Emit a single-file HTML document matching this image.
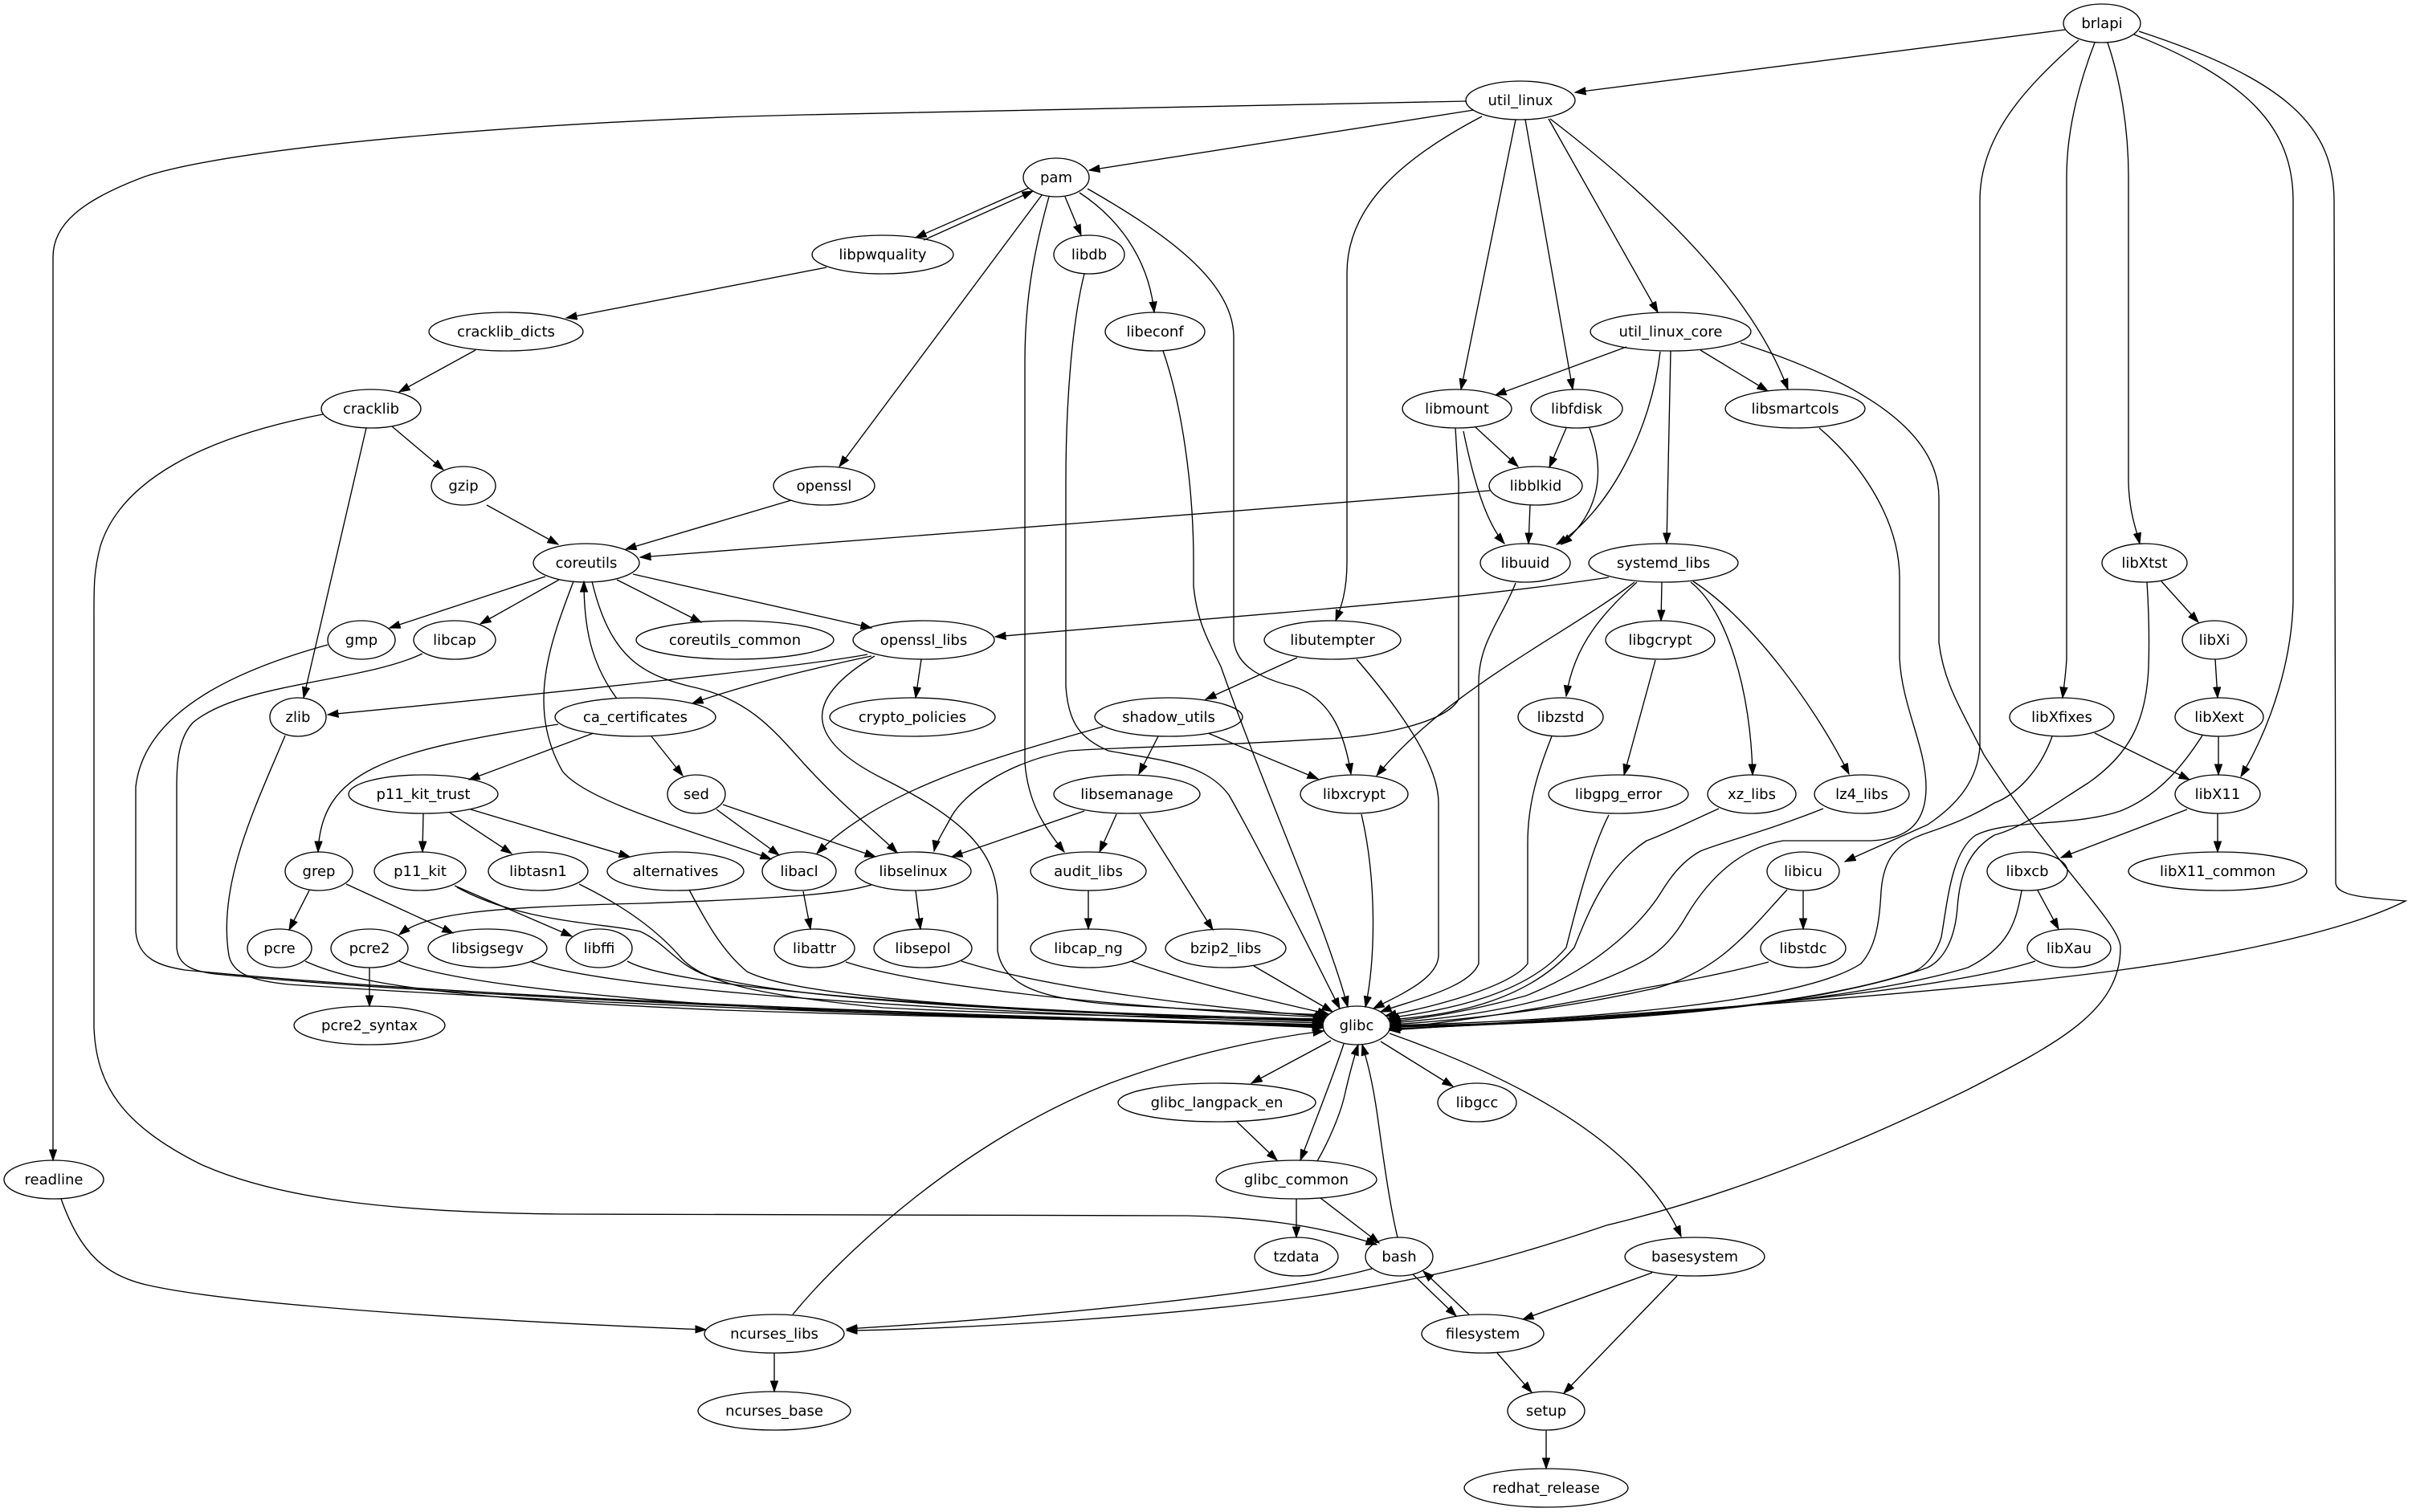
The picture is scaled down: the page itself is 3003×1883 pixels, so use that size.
<!DOCTYPE html>
<html><head><meta charset="utf-8"><style>
html,body{margin:0;padding:0;background:#fff;}
svg{display:block;}
text{font-family:"DejaVu Sans","Liberation Sans",sans-serif;font-size:18px;text-anchor:middle;fill:#000;}
.e{fill:none;stroke:#000;stroke-width:1.35;marker-end:url(#a);}
.n{fill:none;stroke:#000;stroke-width:1.35;}
</style></head><body>
<svg width="3003" height="1883" viewBox="0 0 3003 1883" xmlns="http://www.w3.org/2000/svg">
<defs><marker id="a" markerUnits="userSpaceOnUse" markerWidth="16" markerHeight="12" refX="13.5" refY="5" orient="auto"><path d="M0,0.3 L13.5,5 L0,9.7 z" fill="#000" stroke="#000" stroke-width="1"/></marker></defs>
<rect width="3003" height="1883" fill="#fff"/>
<g>
<path class="e" d="M2571,37 L1961,115"/>
<path class="e" d="M1835,137 L1356,212"/>
<path class="e" d="M1826,126 L1000,143 C700,150 300,180 180,220 C100,250 66,280 66,320 L66,1445"/>
<path class="e" d="M1845,145 C1740,200 1677,260 1677,340 L1677,700 C1677,740 1668,760 1663,773"/>
<path class="e" d="M1887,149 L1819,485"/>
<path class="e" d="M1899,149 L1958,485"/>
<path class="e" d="M1928,148 L2064,389"/>
<path class="e" d="M1930,148 C2050,240 2180,360 2226,485"/>
<path class="e" d="M1281,234 L1140,296"/>
<path class="e" d="M1150,299 L1286,238"/>
<path class="e" d="M1029,333 L705,396"/>
<path class="e" d="M592,436 L497,488"/>
<path class="e" d="M488,531 L552,585"/>
<path class="e" d="M456,533 L378,869"/>
<path class="e" d="M402,516 C250,545 150,600 125,680 C117,710 117,730 117,760 L117,1280 C120,1350 150,1400 250,1450 C350,1495 500,1510 700,1512 L1478,1514 C1560,1516 1640,1525 1714,1550"/>
<path class="e" d="M1297,243 L1045,581"/>
<path class="e" d="M1306,245 C1285,320 1276,380 1276,450 L1276,950 C1280,1000 1300,1030 1325,1061"/>
<path class="e" d="M1326,245 L1346,293"/>
<path class="e" d="M1344,240 C1390,270 1430,320 1437,389"/>
<path class="e" d="M1354,235 C1450,290 1536,350 1536,420 L1536,798 C1540,830 1570,845 1610,855 C1660,870 1675,920 1682,964"/>
<path class="e" d="M1350,341 C1335,400 1327,500 1327,600 L1327,855 C1330,900 1345,920 1380,935 C1450,948 1500,950 1530,990 C1570,1060 1640,1200 1668,1256"/>
<path class="e" d="M1448,437 C1470,500 1486,600 1486,700 L1486,730 C1490,770 1500,790 1520,830 C1580,1000 1650,1150 1678,1254"/>
<path class="e" d="M2025,432 L1862,492"/>
<path class="e" d="M2117,436 L2201,487"/>
<path class="e" d="M2080,437 L2075,677"/>
<path class="e" d="M2067,438 C2055,540 2000,640 1938,678"/>
<path class="e" d="M2167,427 C2300,470 2414,530 2414,620 L2414,800 C2420,850 2440,880 2470,940 C2560,1080 2640,1150 2640,1180 C2640,1260 2560,1300 2450,1357 C2300,1430 2150,1490 2000,1526 C1900,1560 1800,1590 1638,1614 C1450,1640 1200,1655 1054,1657"/>
<path class="e" d="M1837,532 L1890,581"/>
<path class="e" d="M1950,533 L1929,582"/>
<path class="e" d="M1822,537 C1835,600 1850,650 1873,677"/>
<path class="e" d="M1905,629 L1903,677"/>
<path class="e" d="M1979,533 C2000,590 1990,640 1944,678"/>
<path class="e" d="M1812,533 L1816,600 L1816,871 C1800,900 1720,915 1669,919 C1500,930 1400,930 1331,935 C1250,950 1200,990 1185,1016 C1175,1035 1165,1050 1163,1060"/>
<path class="e" d="M1855,611 C1500,640 1100,670 797,694"/>
<path class="e" d="M606,629 L695,678"/>
<path class="e" d="M985,623 L779,684"/>
<path class="e" d="M679,718 L485,782"/>
<path class="e" d="M696,722 L598,777"/>
<path class="e" d="M768,722 L873,775"/>
<path class="e" d="M788,715 L1085,782"/>
<path class="e" d="M714,724 C685,800 655,880 700,960 C730,1000 880,1040 960,1070"/>
<path class="e" d="M737,724 C760,820 800,840 860,855 C930,870 960,905 1000,950 C1050,1005 1090,1035 1117,1062"/>
<path class="e" d="M768,870 C735,825 727,780 727,724"/>
<path class="e" d="M1080,815 C1000,830 700,862 408,890"/>
<path class="e" d="M1085,817 C1000,835 920,855 862,876"/>
<path class="e" d="M1147,821 L1140,869"/>
<path class="e" d="M1089,817 C1000,870 1000,920 1100,970 C1200,1020 1240,1060 1242,1120 L1242,1184 C1250,1230 1300,1245 1400,1252 C1500,1258 1600,1262 1652,1264"/>
<path class="e" d="M695,902 C480,935 400,960 396,1061"/>
<path class="e" d="M739,913 L584,971"/>
<path class="e" d="M811,917 L850,966"/>
<path class="e" d="M527,1013 L526,1061"/>
<path class="e" d="M560,1012 L637,1063"/>
<path class="e" d="M586,1008 L784,1067"/>
<path class="e" d="M892,1008 L970,1065"/>
<path class="e" d="M900,1002 L1090,1067"/>
<path class="e" d="M385,1109 L360,1158"/>
<path class="e" d="M431,1101 L564,1162"/>
<path class="e" d="M566,1103 L712,1166"/>
<path class="e" d="M1085,1102 C1050,1112 1000,1118 800,1125 C600,1130 530,1138 497,1164"/>
<path class="e" d="M460,1205 L460,1253"/>
<path class="e" d="M1000,1110 L1009,1157"/>
<path class="e" d="M1140,1109 L1146,1157"/>
<path class="e" d="M1615,819 L1501,871"/>
<path class="e" d="M1373,905 C1250,940 1100,980 1017,1063"/>
<path class="e" d="M1442,917 L1418,964"/>
<path class="e" d="M1504,913 L1641,970"/>
<path class="e" d="M1350,1010 L1185,1067"/>
<path class="e" d="M1390,1014 L1369,1061"/>
<path class="e" d="M1419,1014 L1510,1158"/>
<path class="e" d="M1355,1109 L1355,1157"/>
<path class="e" d="M2003,719 C1800,750 1500,770 1239,793"/>
<path class="e" d="M2035,725 C1950,790 1800,860 1714,966"/>
<path class="e" d="M2038,725 C2000,760 1960,800 1950,867"/>
<path class="e" d="M2069,725 L2068,773"/>
<path class="e" d="M2105,725 C2150,760 2180,860 2182,965"/>
<path class="e" d="M2108,724 C2180,770 2260,880 2302,964"/>
<path class="e" d="M2061,822 L2022,965"/>
<path class="e" d="M2691,724 L2737,775"/>
<path class="e" d="M2758,821 L2761,869"/>
<path class="e" d="M2762,917 L2762,965"/>
<path class="e" d="M2608,913 L2726,971"/>
<path class="e" d="M2723,1008 L2566,1068"/>
<path class="e" d="M2761,1013 L2761,1061"/>
<path class="e" d="M2537,1109 L2563,1157"/>
<path class="e" d="M2245,1109 L2245,1157"/>
<path class="e" d="M2588,50 C2520,110 2465,170 2465,250 L2465,930 C2462,970 2440,1000 2400,1027 C2360,1045 2320,1062 2297,1073"/>
<path class="e" d="M2608,53 C2590,100 2573,160 2573,220 L2573,820 C2572,840 2569,860 2568,869"/>
<path class="e" d="M2624,53 C2640,100 2650,160 2650,220 L2650,600 C2651,640 2660,660 2664,677"/>
<path class="e" d="M2657,43 C2800,100 2855,160 2855,250 L2855,750 C2853,820 2830,900 2790,967"/>
<path class="e" d="M2663,39 C2850,100 2906,160 2906,250 L2908,1100 C2910,1115 2940,1118 2995,1122 C2900,1170 2700,1200 2640,1208 C2400,1240 2000,1265 1730,1283"/>
<!-- glibc incoming, left -->
<path class="e" d="M408,803 C310,830 180,880 169,980 L169,1160 C172,1195 200,1203 230,1208 C600,1245 1300,1268 1647,1276"/>
<path class="e" d="M526,814 C450,850 300,850 240,900 C222,920 220,950 220,980 L220,1180 C222,1205 245,1210 268,1213 C600,1245 1300,1270 1647,1277"/>
<path class="e" d="M355,916 C320,1000 270,1100 285,1190 C290,1215 320,1222 360,1226 C800,1255 1300,1270 1647,1278"/>
<path class="e" d="M380,1197 C450,1230 600,1245 900,1258 C1200,1268 1500,1272 1647,1279"/>
<path class="e" d="M497,1197 C560,1225 800,1250 1100,1262 C1350,1270 1550,1275 1647,1280"/>
<path class="e" d="M660,1197 C720,1222 1000,1255 1647,1274"/>
<path class="e" d="M781,1197 C830,1225 1100,1255 1648,1272"/>
<path class="e" d="M569,1105 C650,1150 760,1150 797,1160 C830,1175 840,1200 880,1215 C1000,1250 1400,1265 1648,1271"/>
<path class="e" d="M721,1101 C780,1130 820,1160 850,1195 C880,1225 950,1240 1100,1255 C1300,1265 1550,1268 1648,1270"/>
<path class="e" d="M858,1108 C880,1150 900,1185 930,1210 C1000,1245 1300,1262 1649,1269"/>
<path class="e" d="M1053,1198 C1150,1230 1400,1255 1650,1267"/>
<path class="e" d="M1197,1197 C1300,1230 1500,1255 1651,1266"/>
<path class="e" d="M1408,1197 C1500,1230 1600,1250 1654,1263"/>
<path class="e" d="M1561,1203 L1659,1260"/>
<path class="e" d="M987,1637 C1050,1560 1200,1420 1382,1349 C1500,1305 1600,1290 1648,1284"/>
<!-- glibc incoming, right -->
<path class="e" d="M1695,1014 C1715,1100 1712,1200 1700,1254"/>
<path class="e" d="M1689,821 C1740,880 1791,950 1791,1000 L1791,1190 C1790,1220 1740,1240 1710,1256"/>
<path class="e" d="M1887,726 C1870,770 1841,800 1841,850 L1841,1200 C1830,1230 1760,1245 1719,1260"/>
<path class="e" d="M1932,917 C1915,960 1902,1000 1902,1050 L1902,1200 C1880,1230 1780,1255 1725,1265"/>
<path class="e" d="M2003,1015 C1980,1060 1960,1140 1950,1180 C1900,1240 1800,1258 1728,1268"/>
<path class="e" d="M2140,1007 C2100,1025 2070,1040 2050,1047 C2000,1080 1980,1130 1960,1180 C1900,1250 1800,1265 1729,1270"/>
<path class="e" d="M2270,1007 C2200,1035 2140,1050 2117,1060 C2090,1075 2075,1100 2067,1113 C2050,1140 2000,1200 1900,1240 C1820,1262 1760,1270 1730,1272"/>
<path class="e" d="M2265,533 C2320,580 2365,650 2365,720 L2365,820 C2368,880 2398,930 2398,980 C2398,1030 2370,1045 2330,1047 L2220,1047 C2170,1055 2130,1090 2100,1140 C2080,1175 2060,1190 2040,1200 C1950,1245 1850,1265 1731,1274"/>
<path class="e" d="M2225,1108 C2200,1135 2180,1160 2150,1185 C2120,1210 2080,1228 2050,1233 C1950,1255 1830,1270 1731,1276"/>
<path class="e" d="M2202,1198 C2150,1212 2080,1225 2050,1230 C1950,1250 1830,1272 1731,1280"/>
<path class="e" d="M2517,1109 C2510,1150 2500,1180 2450,1205 C2300,1250 2000,1272 1730,1281"/>
<path class="e" d="M2534,1197 C2400,1240 2000,1270 1730,1282"/>
<path class="e" d="M2555,917 C2540,960 2510,990 2483,1000 C2450,1020 2420,1030 2400,1037 C2360,1050 2345,1070 2342,1110 C2340,1150 2335,1180 2317,1200 C2250,1245 2000,1270 1731,1277"/>
<path class="e" d="M2742,916 C2720,950 2690,990 2640,1010 C2580,1030 2500,1020 2460,1040 C2430,1060 2425,1120 2417,1167 C2410,1190 2395,1205 2383,1210 C2250,1255 2000,1273 1731,1278"/>
<path class="e" d="M2673,725 C2676,770 2676,800 2675,831 C2672,900 2650,940 2600,975 C2560,1000 2520,1030 2483,1040 C2450,1060 2440,1090 2437,1130 C2434,1170 2420,1195 2400,1205 C2250,1258 2000,1274 1731,1279"/>
<!-- glibc outgoing & bottom -->
<path class="e" d="M1657,1296 L1558,1349"/>
<path class="e" d="M1673,1300 C1660,1340 1640,1390 1619,1445"/>
<path class="e" d="M1640,1446 C1655,1420 1670,1385 1675,1360 C1682,1330 1688,1310 1691,1301"/>
<path class="e" d="M1740,1541 C1730,1500 1722,1440 1715,1390 C1708,1340 1700,1315 1696,1301"/>
<path class="e" d="M1719,1297 L1809,1353"/>
<path class="e" d="M1730,1287 C1880,1340 2040,1420 2093,1540"/>
<path class="e" d="M1540,1397 L1590,1445"/>
<path class="e" d="M1614,1493 L1614,1541"/>
<path class="e" d="M1644,1492 L1717,1548"/>
<path class="e" d="M1759,1587 L1813,1639"/>
<path class="e" d="M1829,1637 L1772,1583"/>
<path class="e" d="M1708,1580 C1600,1610 1300,1640 1054,1655"/>
<path class="e" d="M2057,1585 L1896,1643"/>
<path class="e" d="M2088,1589 L1947,1735"/>
<path class="e" d="M1864,1685 L1907,1734"/>
<path class="e" d="M1925,1781 L1925,1829"/>
<path class="e" d="M964,1685 L964,1733"/>
<path class="e" d="M76,1493 C100,1560 130,1590 191,1602 C300,1625 600,1645 879,1656"/>
</g>
<g>
<ellipse class="n" cx="2617" cy="29" rx="48" ry="24"/><text x="2617" y="35">brlapi</text>
<ellipse class="n" cx="1893" cy="125" rx="68" ry="24"/><text x="1893" y="131">util_linux</text>
<ellipse class="n" cx="1315" cy="221" rx="41" ry="24"/><text x="1315" y="227">pam</text>
<ellipse class="n" cx="1099" cy="317" rx="88" ry="24"/><text x="1099" y="323">libpwquality</text>
<ellipse class="n" cx="1356" cy="317" rx="44" ry="24"/><text x="1356" y="323">libdb</text>
<ellipse class="n" cx="1438" cy="413" rx="62" ry="24"/><text x="1438" y="419">libeconf</text>
<ellipse class="n" cx="630" cy="413" rx="96" ry="24"/><text x="630" y="419">cracklib_dicts</text>
<ellipse class="n" cx="2080" cy="413" rx="100" ry="24"/><text x="2080" y="419">util_linux_core</text>
<ellipse class="n" cx="462" cy="509" rx="62" ry="24"/><text x="462" y="515">cracklib</text>
<ellipse class="n" cx="1814" cy="509" rx="68" ry="24"/><text x="1814" y="515">libmount</text>
<ellipse class="n" cx="1963" cy="509" rx="57" ry="24"/><text x="1963" y="515">libfdisk</text>
<ellipse class="n" cx="2235" cy="509" rx="87" ry="24"/><text x="2235" y="515">libsmartcols</text>
<ellipse class="n" cx="577" cy="605" rx="40" ry="24"/><text x="577" y="611">gzip</text>
<ellipse class="n" cx="1026" cy="605" rx="63" ry="24"/><text x="1026" y="611">openssl</text>
<ellipse class="n" cx="1912" cy="605" rx="58" ry="24"/><text x="1912" y="611">libblkid</text>
<ellipse class="n" cx="730" cy="701" rx="66" ry="24"/><text x="730" y="707">coreutils</text>
<ellipse class="n" cx="1899" cy="701" rx="56" ry="24"/><text x="1899" y="707">libuuid</text>
<ellipse class="n" cx="2071" cy="701" rx="93" ry="24"/><text x="2071" y="707">systemd_libs</text>
<ellipse class="n" cx="2670" cy="701" rx="53" ry="24"/><text x="2670" y="707">libXtst</text>
<ellipse class="n" cx="450" cy="797" rx="42" ry="24"/><text x="450" y="803">gmp</text>
<ellipse class="n" cx="566" cy="797" rx="51" ry="24"/><text x="566" y="803">libcap</text>
<ellipse class="n" cx="915" cy="797" rx="123" ry="24"/><text x="915" y="803">coreutils_common</text>
<ellipse class="n" cx="1150" cy="797" rx="88" ry="24"/><text x="1150" y="803">openssl_libs</text>
<ellipse class="n" cx="1659" cy="797" rx="85" ry="24"/><text x="1659" y="803">libutempter</text>
<ellipse class="n" cx="2067" cy="797" rx="68" ry="24"/><text x="2067" y="803">libgcrypt</text>
<ellipse class="n" cx="2757" cy="797" rx="40" ry="24"/><text x="2757" y="803">libXi</text>
<ellipse class="n" cx="371" cy="893" rx="35" ry="24"/><text x="371" y="899">zlib</text>
<ellipse class="n" cx="791" cy="893" rx="100" ry="24"/><text x="791" y="899">ca_certificates</text>
<ellipse class="n" cx="1136" cy="893" rx="103" ry="24"/><text x="1136" y="899">crypto_policies</text>
<ellipse class="n" cx="1455" cy="893" rx="92" ry="24"/><text x="1455" y="899">shadow_utils</text>
<ellipse class="n" cx="1943" cy="893" rx="53" ry="24"/><text x="1943" y="899">libzstd</text>
<ellipse class="n" cx="2567" cy="893" rx="65" ry="24"/><text x="2567" y="899">libXfixes</text>
<ellipse class="n" cx="2763" cy="893" rx="55" ry="24"/><text x="2763" y="899">libXext</text>
<ellipse class="n" cx="527" cy="989" rx="93" ry="24"/><text x="527" y="995">p11_kit_trust</text>
<ellipse class="n" cx="867" cy="989" rx="36" ry="24"/><text x="867" y="995">sed</text>
<ellipse class="n" cx="1403" cy="989" rx="91" ry="24"/><text x="1403" y="995">libsemanage</text>
<ellipse class="n" cx="1686" cy="989" rx="67" ry="24"/><text x="1686" y="995">libxcrypt</text>
<ellipse class="n" cx="2015" cy="989" rx="87" ry="24"/><text x="2015" y="995">libgpg_error</text>
<ellipse class="n" cx="2181" cy="989" rx="55" ry="24"/><text x="2181" y="995">xz_libs</text>
<ellipse class="n" cx="2318" cy="989" rx="59" ry="24"/><text x="2318" y="995">lz4_libs</text>
<ellipse class="n" cx="2761" cy="989" rx="53" ry="24"/><text x="2761" y="995">libX11</text>
<ellipse class="n" cx="397" cy="1085" rx="42" ry="24"/><text x="397" y="1091">grep</text>
<ellipse class="n" cx="523" cy="1085" rx="57" ry="24"/><text x="523" y="1091">p11_kit</text>
<ellipse class="n" cx="670" cy="1085" rx="62" ry="24"/><text x="670" y="1091">libtasn1</text>
<ellipse class="n" cx="841" cy="1085" rx="85" ry="24"/><text x="841" y="1091">alternatives</text>
<ellipse class="n" cx="995" cy="1085" rx="46" ry="24"/><text x="995" y="1091">libacl</text>
<ellipse class="n" cx="1137" cy="1085" rx="72" ry="24"/><text x="1137" y="1091">libselinux</text>
<ellipse class="n" cx="1355" cy="1085" rx="72" ry="24"/><text x="1355" y="1091">audit_libs</text>
<ellipse class="n" cx="2245" cy="1085" rx="45" ry="24"/><text x="2245" y="1091">libicu</text>
<ellipse class="n" cx="2524" cy="1085" rx="50" ry="24"/><text x="2524" y="1091">libxcb</text>
<ellipse class="n" cx="2761" cy="1085" rx="111" ry="24"/><text x="2761" y="1091">libX11_common</text>
<ellipse class="n" cx="348" cy="1181" rx="40" ry="24"/><text x="348" y="1187">pcre</text>
<ellipse class="n" cx="460" cy="1181" rx="48" ry="24"/><text x="460" y="1187">pcre2</text>
<ellipse class="n" cx="607" cy="1181" rx="74" ry="24"/><text x="607" y="1187">libsigsegv</text>
<ellipse class="n" cx="746" cy="1181" rx="41" ry="24"/><text x="746" y="1187">libffi</text>
<ellipse class="n" cx="1014" cy="1181" rx="50" ry="24"/><text x="1014" y="1187">libattr</text>
<ellipse class="n" cx="1149" cy="1181" rx="61" ry="24"/><text x="1149" y="1187">libsepol</text>
<ellipse class="n" cx="1355" cy="1181" rx="72" ry="24"/><text x="1355" y="1187">libcap_ng</text>
<ellipse class="n" cx="1526" cy="1181" rx="75" ry="24"/><text x="1526" y="1187">bzip2_libs</text>
<ellipse class="n" cx="2245" cy="1181" rx="53" ry="24"/><text x="2245" y="1187">libstdc</text>
<ellipse class="n" cx="2576" cy="1181" rx="52" ry="24"/><text x="2576" y="1187">libXau</text>
<ellipse class="n" cx="1689" cy="1277" rx="42" ry="24"/><text x="1689" y="1283">glibc</text>
<ellipse class="n" cx="460" cy="1277" rx="94" ry="24"/><text x="460" y="1283">pcre2_syntax</text>
<ellipse class="n" cx="1515" cy="1373" rx="123" ry="24"/><text x="1515" y="1379">glibc_langpack_en</text>
<ellipse class="n" cx="1839" cy="1373" rx="49" ry="24"/><text x="1839" y="1379">libgcc</text>
<ellipse class="n" cx="67" cy="1469" rx="62" ry="24"/><text x="67" y="1475">readline</text>
<ellipse class="n" cx="1614" cy="1469" rx="100" ry="24"/><text x="1614" y="1475">glibc_common</text>
<ellipse class="n" cx="1614" cy="1565" rx="52" ry="24"/><text x="1614" y="1571">tzdata</text>
<ellipse class="n" cx="1742" cy="1565" rx="42" ry="24"/><text x="1742" y="1571">bash</text>
<ellipse class="n" cx="2110" cy="1565" rx="87" ry="24"/><text x="2110" y="1571">basesystem</text>
<ellipse class="n" cx="964" cy="1661" rx="87" ry="24"/><text x="964" y="1667">ncurses_libs</text>
<ellipse class="n" cx="1846" cy="1661" rx="76" ry="24"/><text x="1846" y="1667">filesystem</text>
<ellipse class="n" cx="964" cy="1757" rx="95" ry="24"/><text x="964" y="1763">ncurses_base</text>
<ellipse class="n" cx="1925" cy="1757" rx="48" ry="24"/><text x="1925" y="1763">setup</text>
<ellipse class="n" cx="1925" cy="1853" rx="102" ry="24"/><text x="1925" y="1859">redhat_release</text>
</g>
</svg>
</body></html>
